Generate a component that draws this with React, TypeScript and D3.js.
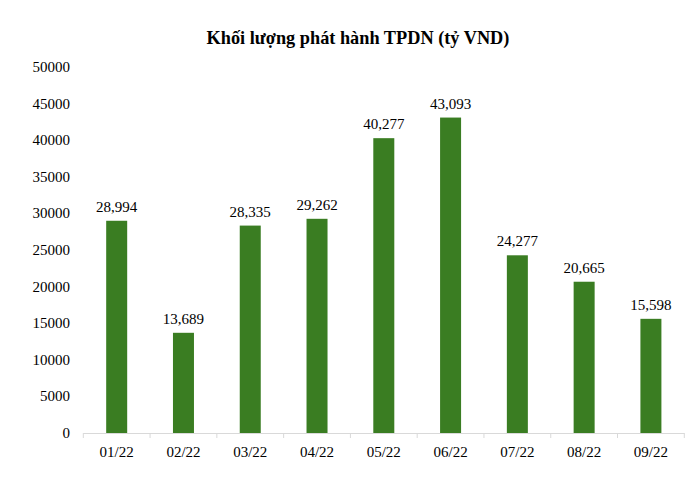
import React from "react";
import * as d3 from "d3";

const categories = ["01/22", "02/22", "03/22", "04/22", "05/22", "06/22", "07/22", "08/22", "09/22"];
const values = [28994, 13689, 28335, 29262, 40277, 43093, 24277, 20665, 15598];
const yTicks = [0, 5000, 10000, 15000, 20000, 25000, 30000, 35000, 40000, 45000, 50000];
const title = "Khối lượng phát hành TPDN (tỷ VND)";

const W = 700;
const H = 483;
const left = 83.3;
const right = 684.3;
const top = 67;
const bottom = 433;
const font = "'Liberation Serif', 'Times New Roman', serif";
const barColor = "#3a7d22";

export default function App() {
  const x = d3.scaleBand<string>().domain(categories).range([left, right]).paddingInner(0).paddingOuter(0);
  const y = d3.scaleLinear().domain([0, 50000]).range([bottom, top]);
  const bw = 21;
  const fmt = d3.format(",");
  const boundaries = [...categories.map((c) => x(c) as number), right];
  return (
    <svg width={W} height={H} style={{ position: "absolute", left: 0, top: 0, background: "#fff" }}>
      <text x={358} y={44} textAnchor="middle" fontFamily={font} fontWeight="bold" fontSize={18.3} fill="#000">
        {title}
      </text>
      {yTicks.map((t) => (
        <text key={t} x={70} y={y(t) + 5} textAnchor="end" fontFamily={font} fontSize={15} fill="#000">
          {t}
        </text>
      ))}
      {categories.map((c, i) => {
        const cx = (x(c) as number) + x.bandwidth() / 2;
        return (
          <g key={c}>
            <rect x={cx - bw / 2} y={y(values[i])} width={bw} height={bottom - y(values[i])} fill={barColor} />
            <text x={cx} y={y(values[i]) - 9} textAnchor="middle" fontFamily={font} fontSize={15} fill="#000">
              {fmt(values[i])}
            </text>
            <text x={cx} y={457} textAnchor="middle" fontFamily={font} fontSize={15} fill="#000">
              {c}
            </text>
          </g>
        );
      })}
      <line x1={left} x2={right} y1={bottom + 0.5} y2={bottom + 0.5} stroke="#d9d9d9" strokeWidth={1} />
      {boundaries.map((b, i) => (
        <line key={i} x1={b} x2={b} y1={bottom} y2={bottom + 5} stroke="#d9d9d9" strokeWidth={1} />
      ))}
    </svg>
  );
}
